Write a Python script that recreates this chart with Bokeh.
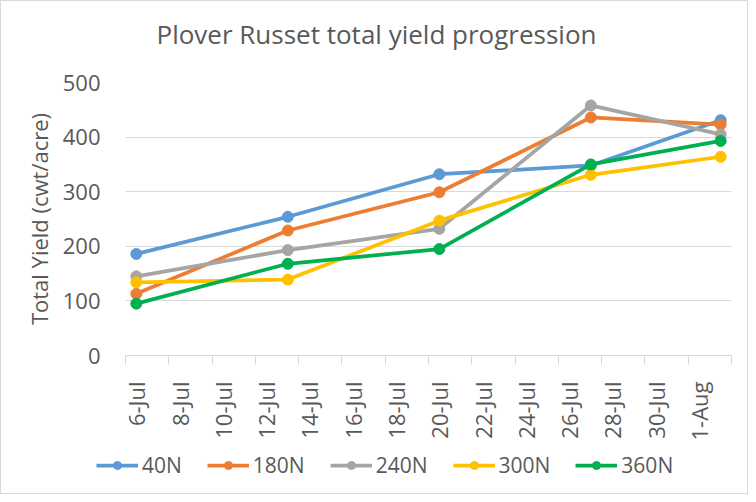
import math
import pandas as pd
from bokeh.plotting import figure
from bokeh.layouts import column
from bokeh.models import Range1d, FixedTicker, Legend, LegendItem, Title
from bokeh.embed import file_html
from bokeh.resources import INLINE

# ---- data ----
dates = ["6-Jul", "13-Jul", "20-Jul", "27-Jul", "2-Aug"]
series_names = ["40N", "180N", "240N", "300N", "360N"]
y_40N = [186, 254, 332, 348, 431]
y_180N = [113, 229, 299, 436, 423]
y_240N = [145, 193, 232, 458, 405]
y_300N = [134, 139, 247, 331, 364]
y_360N = [95, 168, 195, 350, 393]
tick_labels = ["6-Jul", "8-Jul", "10-Jul", "12-Jul", "14-Jul", "16-Jul", "18-Jul",
               "20-Jul", "22-Jul", "24-Jul", "26-Jul", "28-Jul", "30-Jul", "1-Aug"]
y_ticks = [0, 100, 200, 300, 400, 500]

colors = ["#5B9BD5", "#ED7D31", "#A5A5A5", "#FFC000", "#00B050"]
TXT = "#595959"
GRID = "#d9d9d9"
FONT = "Open Sans"

def to_day(s):
    d = pd.to_datetime(s + "-2000", format="%d-%b-%Y")
    return int((d - pd.Timestamp("2000-06-30")).days)

x_days = [to_day(d) for d in dates]
tick_days = [to_day(t) for t in tick_labels]
series = [y_40N, y_180N, y_240N, y_300N, y_360N]

p = figure(width=746, height=442, output_backend="svg", toolbar_location=None,
           x_range=Range1d(tick_days[0] - 0.5, tick_days[-1] + 1.5),
           y_range=Range1d(y_ticks[0], y_ticks[-1]),
           min_border_left=124, min_border_right=16, min_border_top=81, min_border_bottom=87)
p.outline_line_color = None
p.frame_align = False

# title (a small blank spacer title sits between the frame and the real title)
p.add_layout(Title(text=" ", text_font_size="10px", standoff=18), "above")
p.add_layout(Title(text="Plover Russet total yield progression", align="left", offset=31,
                   text_font=FONT, text_font_size="26px", text_font_style="normal",
                   text_color=TXT, standoff=0), "above")

# x axis
xa = p.xaxis[0]
xa.ticker = FixedTicker(ticks=tick_days,
                        minor_ticks=[d - 0.5 for d in tick_days] + [tick_days[-1] + 1.5])
xa.major_label_overrides = {d: lbl for d, lbl in zip(tick_days, tick_labels)}
xa.major_label_orientation = math.pi / 2
xa.major_tick_line_color = None
xa.major_tick_out = 0
xa.minor_tick_line_color = GRID
xa.minor_tick_out = 9
xa.minor_tick_in = 0
xa.axis_line_color = GRID
xa.major_label_standoff = 17
xa.major_label_text_font = FONT
xa.major_label_text_font_size = "22px"
xa.major_label_text_color = TXT

# y axis
ya = p.yaxis[0]
ya.ticker = FixedTicker(ticks=y_ticks)
ya.axis_line_color = None
ya.major_tick_line_color = None
ya.minor_tick_line_color = None
ya.major_label_standoff = 19
ya.major_label_text_font = FONT
ya.major_label_text_font_size = "22px"
ya.major_label_text_color = TXT
ya.axis_label = "Total Yield (cwt/acre)"
ya.axis_label_text_font = FONT
ya.axis_label_text_font_size = "22px"
ya.axis_label_text_font_style = "normal"
ya.axis_label_text_color = TXT
ya.axis_label_standoff = 6

p.xgrid.grid_line_color = None
p.ygrid.grid_line_color = GRID
p.ygrid.grid_line_width = 1

for ys, c in zip(series, colors):
    p.line(x_days, ys, line_color=c, line_width=3.75)
    p.scatter(x_days, ys, size=11, fill_color=c, line_color=c)

# legend strip below the chart (its own series glyphs lie outside its view)
p2 = figure(width=746, height=50, output_backend="svg", toolbar_location=None,
            x_range=Range1d(0, 1), y_range=Range1d(0, 1),
            x_axis_location=None, y_axis_location=None, min_border=0)
p2.frame_align = False
p2.outline_line_color = None
p2.xgrid.visible = False
p2.ygrid.visible = False
items = []
for name, ys, c in zip(series_names, series, colors):
    r1 = p2.line(x_days, ys, line_color=c, line_width=3.75)
    r2 = p2.scatter(x_days, ys, size=11, fill_color=c, line_color=c)
    items.append(LegendItem(label=name, renderers=[r1, r2]))
legend = Legend(items=items, orientation="horizontal", location=(95, 14),
                border_line_color=None, background_fill_alpha=0,
                glyph_width=42, glyph_height=20, label_standoff=4, spacing=25,
                padding=0, margin=0,
                label_text_font=FONT, label_text_font_size="21px", label_text_color=TXT)
p2.add_layout(legend)

layout = column(p, p2, spacing=0, styles={"border": "1px solid #d9d9d9"})
open("out.html", "w").write(file_html(layout, INLINE))
